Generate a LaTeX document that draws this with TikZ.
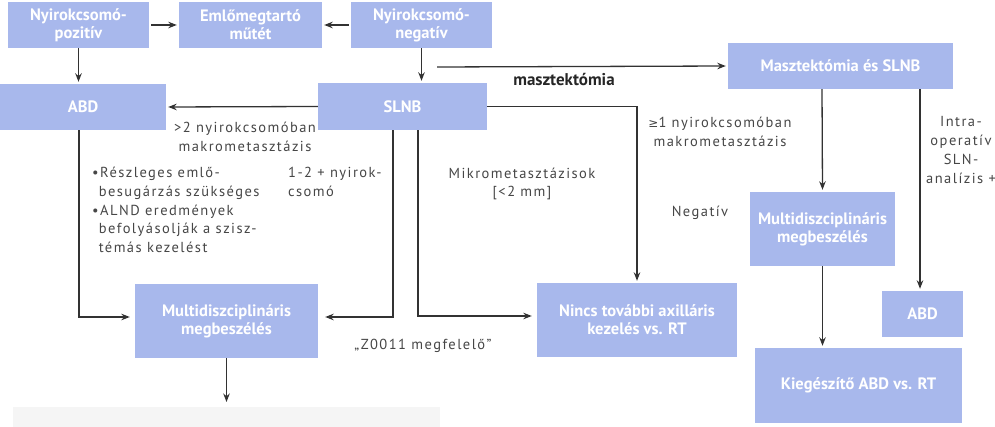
\documentclass[tikz,border=0pt]{standalone}
\usepackage{fontspec}
\setmainfont{PT Sans}
\newfontfamily\lblfont{PT Sans}[LetterSpace=10]
\newfontfamily\symfont{DejaVu Sans}
\usetikzlibrary{arrows.meta}
\definecolor{boxblue}{RGB}{168,184,236}
\definecolor{lineg}{RGB}{50,50,50}
\definecolor{txtg}{RGB}{70,70,70}
\begin{document}
\begin{tikzpicture}[x=1pt,y=-1pt,
 box/.style={fill=boxblue, draw=none, text=white, font=\fontsize{16.5}{18}\selectfont\bfseries, align=center, inner sep=0pt},
 arr/.style={draw=lineg, line width=1.3pt, -{Stealth[length=8.5pt,width=6.5pt]}, shorten >=2pt},
 lbl/.style={text=txtg, font=\lblfont\fontsize{14.5}{18.7}\selectfont, align=center, inner sep=0pt}]
\useasboundingbox (0,0) rectangle (995,427);
\fill[black!4] (13,407) rectangle (440,427);
% boxes
\node[box, minimum width=141pt, minimum height=46pt] (pos) at (78.5,25) {Nyirokcsomó-\\pozitív};
\node[box, minimum width=143pt, minimum height=46pt] (eml) at (250.5,25) {Emlőmegtartó\\műtét};
\node[box, minimum width=141pt, minimum height=46pt] (neg) at (421.5,25) {Nyirokcsomó-\\negatív};
\node[box, minimum width=166pt, minimum height=46pt] (abd) at (83,107) {ABD};
\node[box, minimum width=169pt, minimum height=47pt] (slnb) at (402.5,106.5) {SLNB};
\node[box, minimum width=225pt, minimum height=46pt] (mast) at (840.5,66) {Masztektómia és SLNB};
\node[box, minimum width=183pt, minimum height=74pt] (multiL) at (226.5,321) {Multidiszciplináris\\megbeszélés};
\node[box, minimum width=200pt, minimum height=74pt] (nincs) at (637,320) {Nincs további axilláris\\kezelés vs. RT};
\node[box, minimum width=145pt, minimum height=74pt] (multiR) at (822.5,229) {Multidiszciplináris\\megbeszélés};
\node[box, minimum width=81pt, minimum height=46pt] (abdR) at (922.5,314) {ABD};
\node[box, minimum width=207pt, minimum height=75pt] (kieg) at (858.5,385.5) {Kiegészítő ABD vs. RT};
\coordinate (mstart) at (437,67);
\coordinate (bottom) at (226.5,404);
% connectors
\draw[arr, shorten <=2pt] (pos.east) -- (eml.west);
\draw[arr, shorten <=2pt] (neg.west) -- (eml.east);
\draw[arr] (pos.south) -- (pos.south |- abd.north);
\draw[arr] (neg.south) -- (neg.south |- slnb.north);
\draw[arr] (mstart) -- (mast.west);
\draw[arr] (slnb.west) -- (abd.east);
\draw[arr] (slnb.east) -| (nincs.north);
\draw[arr, shorten >=7pt] ([xshift=-9.5pt]slnb.south) |- ([yshift=4pt]multiL.east);
\draw[arr, shorten >=5pt] ([xshift=15.5pt]slnb.south) |- ([yshift=4pt]nincs.west);
\draw[arr, shorten >=5pt] ([xshift=-4pt]abd.south) |- ([yshift=4pt]multiL.west);
\draw[arr] (multiL.south) -- (bottom);
\draw[arr] ([xshift=-18.5pt]mast.south) -- (multiR.north);
\draw[arr] ([xshift=-2.5pt]abdR.north |- mast.south) -- ([xshift=-2.5pt]abdR.north);
\draw[arr] (multiR.south) -- (multiR.south |- kieg.north);
% labels
\node[lbl] (l1) at (245,137) {>2 nyirokcsomóban\\makrometasztázis};
\node[text=black!85, font=\fontsize{17}{19}\selectfont\bfseries, inner sep=0pt] (l2) at (564,80) {masztektómia};
\node[lbl] (l3) at (720,132) {{\symfont\fontsize{12}{18}\selectfont≥}1 nyirokcsomóban\\makrometasztázis};
\node[lbl] (l4) at (961,150) {Intra-\\operatív\\SLN-\\analízis +};
\node[lbl] (l5) at (700,213) {Negatív};
\node[lbl] (l6) at (522,184) {Mikrometasztázisok\\{[}<2 mm{]}};
\node[lbl, align=left, anchor=north west] (l7) at (288,167) {1-2 + nyirok-\\csomó};
\node[lbl, align=left, anchor=north west] (l8) at (92,167) {•Részleges emlő-\\\phantom{•}besugárzás szükséges\\•ALND eredmények\\\phantom{•}befolyásolják a szisz-\\\phantom{•}témás kezelést};
\node[lbl] (l9) at (423,346) {„Z0011 megfelelő”};
\end{tikzpicture}
\end{document}
